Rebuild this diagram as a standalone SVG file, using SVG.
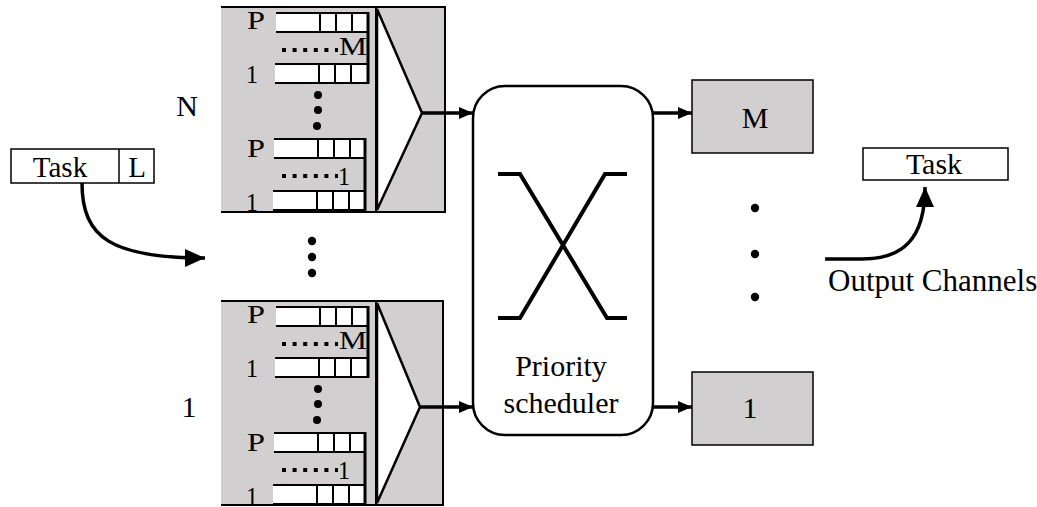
<svg xmlns="http://www.w3.org/2000/svg" xmlns:xlink="http://www.w3.org/1999/xlink" width="1037" height="507" viewBox="0 0 1037 507" font-family="'Liberation Serif', 'Times New Roman', serif">
<style>
text{font-family:'Liberation Serif','Times New Roman',serif;fill:#000}
.big{font-size:30px}
.q{font-size:25px}
.gray{fill:#d1cfcf}
.ln{stroke:#000;fill:none}
.conn{stroke:#000;stroke-width:3.5;fill:none}
.dots{stroke:#000;stroke-width:4;stroke-dasharray:4 6.6;fill:none}
</style>
<defs>
<g id="bar">
<rect x="0" y="0" width="92" height="19" fill="#fff"/>
<path d="M0,0H92M0,19H92M44,0V19M60,0V19M76,0V19" stroke="#000" stroke-width="2" fill="none"/>
</g>
<g id="queues">
<use xlink:href="#bar" x="276" y="13"/>
<use xlink:href="#bar" x="275" y="64"/>
<use xlink:href="#bar" x="274" y="139"/>
<use xlink:href="#bar" x="273" y="191"/>
<path d="M368,12V84M365,138V211" stroke="#000" stroke-width="3" fill="none"/>
<path d="M282,50H338M282,176H338" class="dots"/>
<circle cx="318" cy="95" r="4"/>
<circle cx="318" cy="110" r="4"/>
<circle cx="317" cy="126" r="4"/>
<text class="q" x="247" y="29" textLength="18" lengthAdjust="spacingAndGlyphs">P</text>
<text class="q" x="246" y="83" textLength="12" lengthAdjust="spacingAndGlyphs">1</text>
<text class="q" x="339" y="55" textLength="28" lengthAdjust="spacingAndGlyphs">M</text>
<text class="q" x="247" y="157" textLength="18" lengthAdjust="spacingAndGlyphs">P</text>
<text class="q" x="338" y="185" textLength="12" lengthAdjust="spacingAndGlyphs">1</text>
<text class="q" x="246" y="211" textLength="12" lengthAdjust="spacingAndGlyphs">1</text>
</g>
<marker id="ah" viewBox="0 0 14 12" refX="14" refY="6" markerWidth="14" markerHeight="12" markerUnits="userSpaceOnUse" orient="auto">
<path d="M0,0L14,6L0,12z" fill="#000"/>
</marker>
<marker id="ahb" viewBox="0 0 20 18" refX="20" refY="9" markerWidth="20" markerHeight="18" markerUnits="userSpaceOnUse" orient="auto">
<path d="M0,0L20,9L0,18z" fill="#000"/>
</marker>
</defs>

<g id="input-task">
<rect x="11" y="149" width="143" height="34" fill="#fff" class="ln" stroke-width="1.5"/>
<line x1="119" y1="149" x2="119" y2="183" class="ln" stroke-width="1.5"/>
<text class="big" x="60" y="177" text-anchor="middle" style="font-size:29px">Task</text>
<text class="big" x="137" y="177" text-anchor="middle" style="font-size:29px">L</text>
</g>

<g id="label-N"><text class="big" x="187" y="116" text-anchor="middle">N</text></g>
<g id="label-1"><text class="big" x="189" y="417" text-anchor="middle">1</text></g>

<g id="buffer-N">
<rect x="221" y="7" width="224" height="205" class="gray"/>
<path d="M221,7H445V212H221" class="ln" stroke-width="2"/>
<line x1="376" y1="7" x2="376" y2="212" class="ln" stroke-width="2"/>
<polygon points="377,9 422,113 377,210" fill="#fff" stroke="#000" stroke-width="2.5"/>
<use xlink:href="#queues"/>
</g>

<g id="between-dots">
<circle cx="312" cy="241" r="4.2"/>
<circle cx="312" cy="257" r="4.2"/>
<circle cx="312" cy="273" r="4.2"/>
</g>

<g id="buffer-1">
<rect x="221" y="301" width="222" height="204" class="gray"/>
<path d="M221,301H443V505H221" class="ln" stroke-width="2"/>
<line x1="376" y1="301" x2="376" y2="505" class="ln" stroke-width="2"/>
<polygon points="377,303 420,407 377,503" fill="#fff" stroke="#000" stroke-width="2.5"/>
<use xlink:href="#queues" transform="translate(0,294)"/>
</g>

<g id="scheduler">
<rect x="473" y="86" width="180" height="349" rx="32" ry="32" fill="#fff" class="ln" stroke-width="2.5"/>
<path d="M498,174H520L607,318H627M627,174H605L520,318H498" class="ln" stroke-width="4"/>
<text class="big" x="561" y="376" text-anchor="middle">Priority</text>
<text class="big" x="561" y="413" text-anchor="middle">scheduler</text>
</g>

<g id="channel-M">
<rect x="692" y="80" width="121" height="73" class="gray" stroke="#000" stroke-width="1.5"/>
<text class="big" x="755" y="128" text-anchor="middle">M</text>
</g>

<g id="channel-dots">
<circle cx="755" cy="208" r="4.2"/>
<circle cx="755" cy="254" r="4.2"/>
<circle cx="755" cy="297" r="4.2"/>
</g>

<g id="channel-1">
<rect x="692" y="372" width="121" height="73" class="gray" stroke="#000" stroke-width="1.5"/>
<text class="big" x="750" y="418" text-anchor="middle">1</text>
</g>

<g id="output-task">
<rect x="863" y="148" width="145" height="32" fill="#fff" class="ln" stroke-width="1.5"/>
<text class="big" x="934" y="174" text-anchor="middle">Task</text>
</g>

<g id="label-output"><text class="big" x="828" y="291" style="font-size:31px">Output Channels</text></g>

<g id="connectors">
<path d="M82,183C82,238 112,258 205,258" class="conn" marker-end="url(#ahb)"/>
<path d="M422,113H473" class="conn" marker-end="url(#ah)"/>
<path d="M420,407H473" class="conn" marker-end="url(#ah)"/>
<path d="M653,113H692" class="conn" marker-end="url(#ah)"/>
<path d="M653,407H692" class="conn" marker-end="url(#ah)"/>
<path d="M825,259H862C902,259 925,240 925,187" class="conn" marker-end="url(#ahb)"/>
</g>
</svg>
